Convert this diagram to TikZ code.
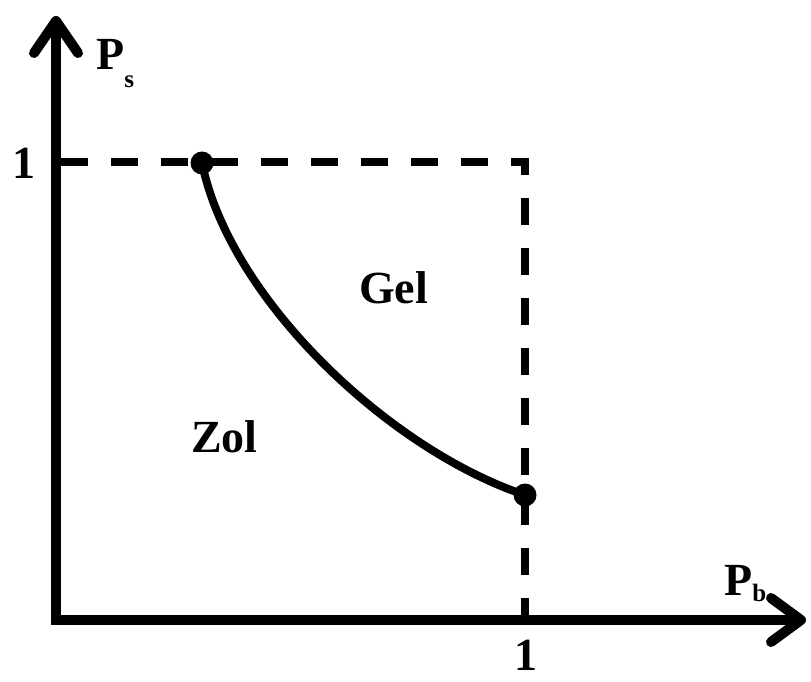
\documentclass[tikz,border=0pt]{standalone}
\usepackage{fontspec}
\setmainfont{Liberation Serif}
\usetikzlibrary{arrows.meta}
\begin{document}
\begin{tikzpicture}[x=1pt,y=-1pt,
  axis/.style={line width=10pt, line join=miter},
  guide/.style={line width=8.5pt, dash pattern=on 27pt off 23pt},
  boundary/.style={line width=8pt, line cap=round},
  dotmark/.style={circle, fill=black, inner sep=0pt, minimum size=23pt},
  lbl/.style={inner sep=0pt, anchor=base west, font=\fontsize{46}{50}\selectfont\bfseries}]
\useasboundingbox (0,0) rectangle (811,682);
% coordinates
\coordinate (ytop) at (56,16);
\coordinate (origin) at (56,620);
\coordinate (xend) at (806,620);
\coordinate (yone) at (61,162);
\coordinate (corner) at (525,162);
\coordinate (xone) at (525,620);
% dashed guides
\draw[guide] (yone) -- (corner) -- (xone);
% axes
\draw[axis, {Straight Barb[length=32pt, width=44pt, line cap=round, line join=round]}-{Straight Barb[length=30pt, width=44pt, line cap=round, line join=round]}] (ytop) -- (origin) -- (xend);
% curve
\node[dotmark] (a) at (202,163) {};
\node[dotmark] (b) at (525,495) {};
\draw[boundary] (a.center) .. controls (230,300) and (390,450) .. (b.center);
% labels
\node[lbl] (ps) at (96,70) {P\raisebox{-18pt}{\fontsize{25}{25}\selectfont s}};
\node[lbl] (pb) at (724,595) {P\raisebox{-6pt}{\fontsize{25}{25}\selectfont b}};
\node[lbl] (one1) at (12,178) {1};
\node[lbl] (one2) at (514,670) {1};
\node[lbl] (gel) at (359,303) {Gel};
\node[lbl] (zol) at (191,452) {Zol};
\end{tikzpicture}
\end{document}
